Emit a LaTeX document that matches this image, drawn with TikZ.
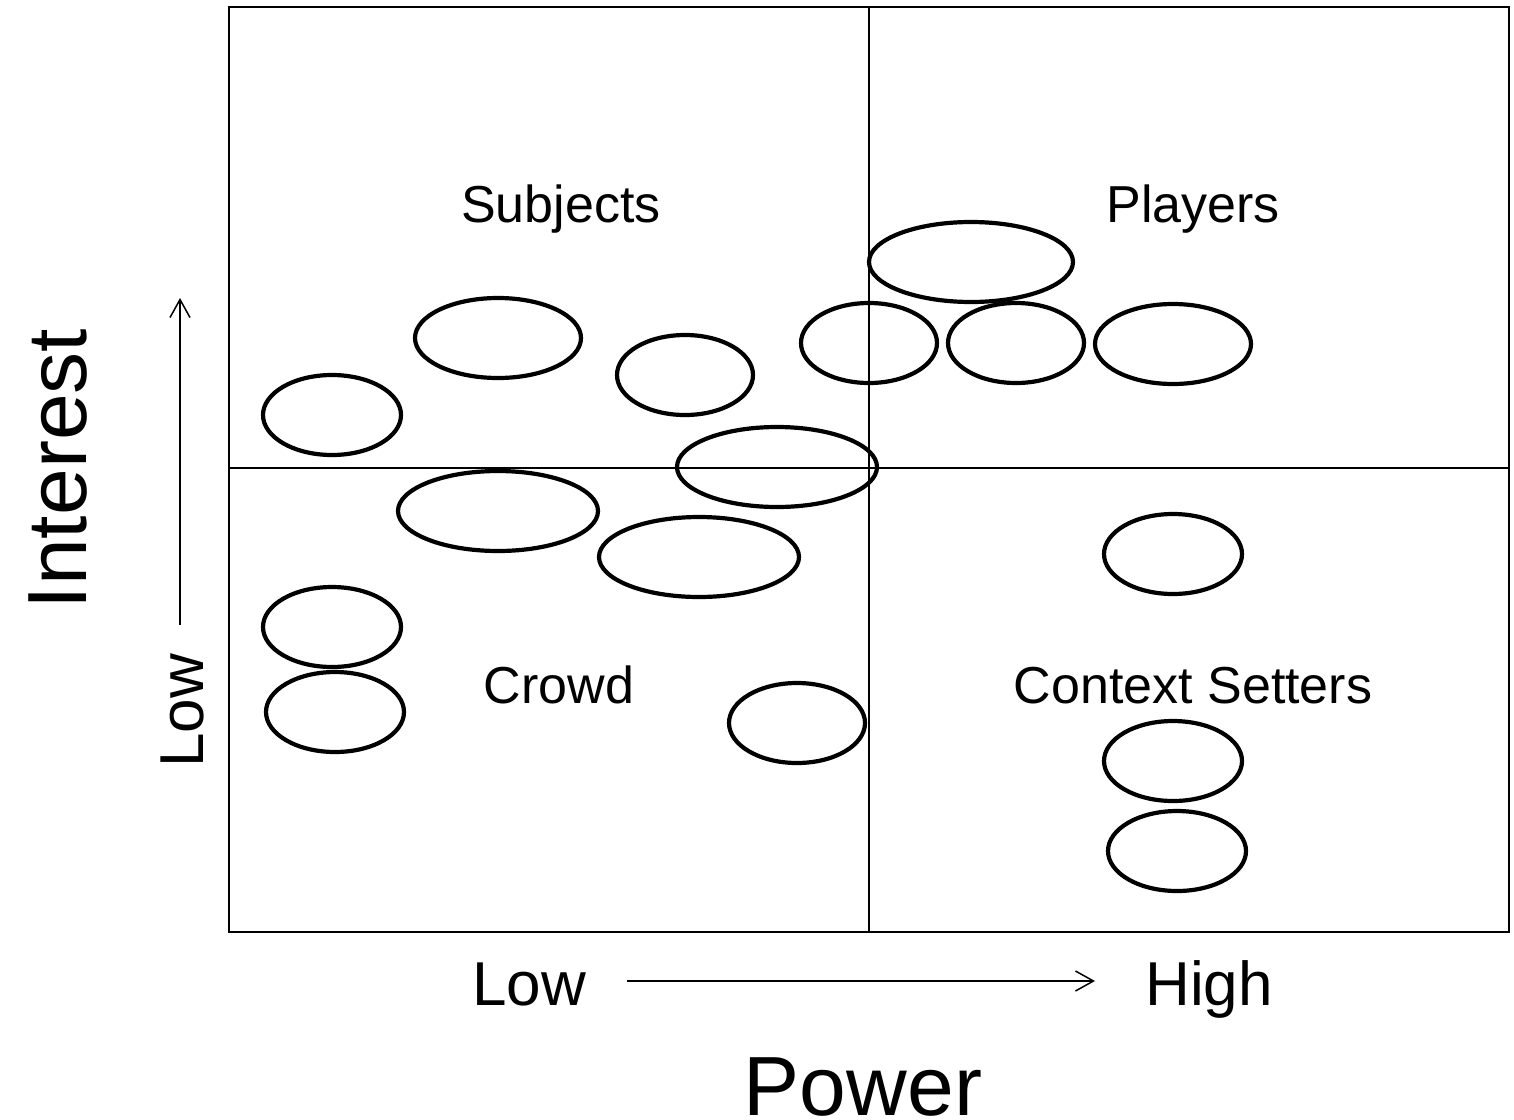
\documentclass[tikz,border=0pt]{standalone}
\usepackage{fontspec}
\setmainfont{Liberation Sans}
\usetikzlibrary{arrows.meta}

\begin{document}
\begin{tikzpicture}[x = 0.5pt, y = -0.5pt,
		blob/.style = {line width=2.1pt},
		quad/.style = {anchor=base, font=\fontsize{26}{30}\selectfont},
		axis/.style = {anchor=base, font=\fontsize{31}{36}\selectfont},
		title/.style = {anchor=base, font=\fontsize{42}{48}\selectfont},
		arr/.style = {line width=0.75pt, -{Straight Barb[length=9pt, width=10pt]}}]
		\useasboundingbox (0,0) rectangle (1514,1119);
		% grid
		\draw [line width=1pt] (229,7) rectangle (1509,932);
		\draw [line width=1pt] (869,7) -- (869,932);
		\draw [line width=1pt] (229,468) -- (1509,468);
		% quadrant labels
		\node [quad] (subj) at (561,222) {Subjects};
		\node [quad] (play) at (1193,222) {Players};
		\node [quad] (crowd) at (559,703) {Crowd};
		\node [quad] (ctx) at (1193,703) {Context Setters};
		% stakeholders
		\draw [blob] (971,262) ellipse (102 and 40);
		\draw [blob] (869,343) ellipse (68 and 40);
		\draw [blob] (1016,343) ellipse (68 and 40);
		\draw [blob] (1173,344) ellipse (78 and 40);
		\draw [blob] (498,338) ellipse (83 and 40);
		\draw [blob] (685,375) ellipse (68 and 40);
		\draw [blob] (332,415) ellipse (69 and 40);
		\draw [blob] (777,467) ellipse (100 and 40);
		\draw [blob] (498,511) ellipse (100 and 40);
		\draw [blob] (699,557) ellipse (100 and 40);
		\draw [blob] (332,627) ellipse (69 and 40);
		\draw [blob] (335,712) ellipse (69 and 40);
		\draw [blob] (797,723) ellipse (68 and 40);
		\draw [blob] (1173,554) ellipse (69 and 40);
		\draw [blob] (1173,761) ellipse (69 and 40);
		\draw [blob] (1177,851) ellipse (69 and 40);
		% axes
		\node [axis] (plow) at (529,1005) {Low};
		\node [axis] (phigh) at (1209,1005) {High};
		\node [title] (power) at (863,1115) {Power};
		\node [axis, rotate=90] (ilow) at (203,711) {Low};
		\node [title, rotate=90] (interest) at (86,469) {Interest};
		\coordinate (pa) at (627,981);
		\coordinate (pb) at (1095,981);
		\coordinate (ia) at (180,625);
		\coordinate (ib) at (180,298);
		\draw [arr] (pa) -- (pb);
		\draw [arr] (ia) -- (ib);
	\end{tikzpicture}
\end{document}
